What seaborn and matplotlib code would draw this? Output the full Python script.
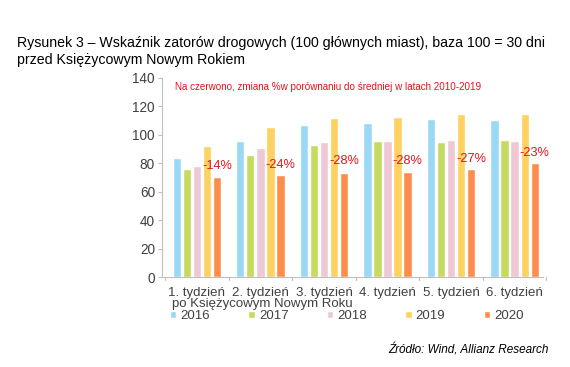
import matplotlib
matplotlib.use("Agg")
import matplotlib.pyplot as plt
import seaborn as sns
import pandas as pd

weeks = ["1. tydzień", "2. tydzień", "3. tydzień", "4. tydzień", "5. tydzień", "6. tydzień"]
years = ["2016", "2017", "2018", "2019", "2020"]
v2016 = [84, 96, 107, 108, 111, 110.5]
v2017 = [76, 86, 93, 96, 95, 96.5]
v2018 = [78.5, 91, 95, 95.5, 96.5, 95.5]
v2019 = [92, 105.5, 112, 112.5, 114.5, 114.5]
v2020 = [70.5, 72, 73.5, 74, 76, 80.5]
changes = ["-14%", "-24%", "-28%", "-28%", "-27%", "-23%"]
change_y = [78, 79, 81.5, 82, 83, 87.5]
colors = ["#9AD9F5", "#C5DA5E", "#EEC8D5", "#FDD262", "#FD8D4A"]

sns.set_style("white")
plt.rcParams['font.family'] = ['Liberation Sans', 'DejaVu Sans']

rows = []
for yr, vals in zip(years, [v2016, v2017, v2018, v2019, v2020]):
    for w, v in zip(weeks, vals):
        rows.append({"week": w, "year": yr, "value": v})
df = pd.DataFrame(rows)

fig = plt.figure(figsize=(5.7, 3.67), dpi=100)
ax = fig.add_axes([0.284, 0.244, 0.669, 0.544])
sns.barplot(data=df, x="week", y="value", hue="year", palette=colors,
            width=0.79, gap=0.18, ax=ax, legend=True, saturation=1)

ax.set_ylim(0, 140)
ax.set_yticks(range(0, 141, 20))
ax.set_xlim(-0.55, 5.45)
ax.set_xlabel("")
ax.set_ylabel("")
for s in ["top", "right"]:
    ax.spines[s].set_visible(False)
ax.spines["left"].set_color("#BFBFBF")
ax.spines["bottom"].set_color("#BFBFBF")
ax.tick_params(axis="y", labelsize=9.8, colors="#404040", length=3, color="#BFBFBF",
               left=True, pad=2)
ax.tick_params(axis="x", labelsize=9.5, colors="#404040", length=0, pad=7)

# x category boundary ticks
for b in [i + 0.5 for i in range(-1, 6)]:
    ax.plot([b, b], [0, -1.8], color="#BFBFBF", lw=0.8, clip_on=False)

step = 0.79 / 5
for i, (lab, yv) in enumerate(zip(changes, change_y)):
    ax.text(i + 2 * step, yv, lab, color="#E8101A", fontsize=9.2,
            ha="center", va="center")

ax.text(0.035, 0.955, "Na czerwono, zmiana %w porównaniu do średniej w latach 2010-2019",
        transform=ax.transAxes, color="#E8101A", fontsize=7.1, va="center")

fig.text(0.302, 0.172, "po Księżycowym Nowym Roku", fontsize=9.5, color="#404040",
         va="center", ha="left")

handles, labels = ax.get_legend_handles_labels()
ax.legend(handles, labels, loc="center left", bbox_to_anchor=(0.014, -0.195),
          ncol=5, frameon=False, fontsize=9.5, handlelength=0.5, handleheight=0.5,
          columnspacing=2.9, handletextpad=0.3, labelcolor="#404040",
          borderaxespad=0, borderpad=0.2)

fig.text(0.03, 0.882, "Rysunek 3 – Wskaźnik zatorów drogowych (100 głównych miast), baza 100 = 30 dni",
         fontsize=10.2, color="black", va="center")
fig.text(0.03, 0.836, "przed Księżycowym Nowym Rokiem", fontsize=10.2, color="black", va="center")

fig.text(0.962, 0.046, "Źródło: Wind, Allianz Research", fontsize=8.5, style="italic",
         ha="right", va="center", color="black")

fig.savefig("out.png", dpi=100)
